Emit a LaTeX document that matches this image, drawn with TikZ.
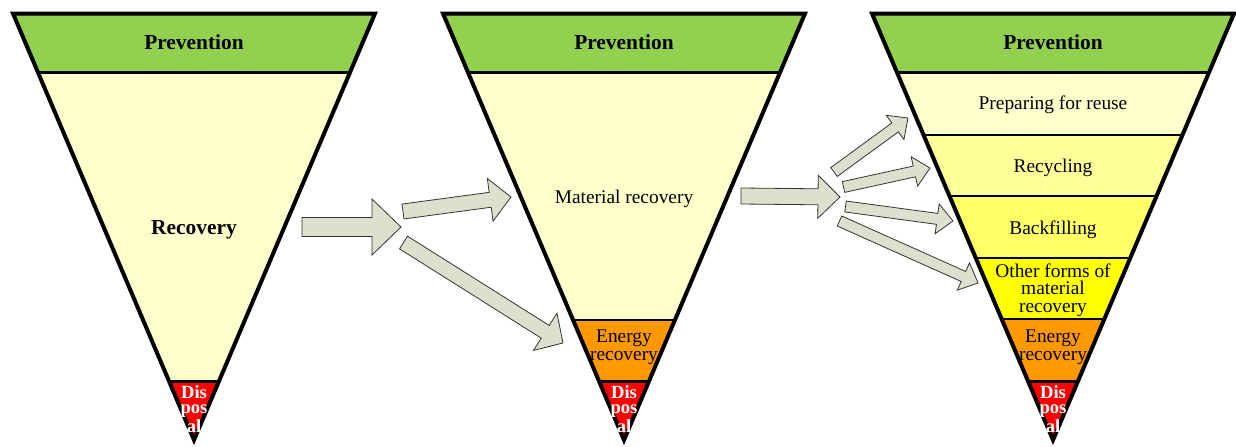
\documentclass[tikz,border=0pt]{standalone}
\usepackage{fontspec}
\setmainfont{Liberation Serif}
\usetikzlibrary{calc}
\definecolor{prevgreen}{HTML}{92D050}
\definecolor{paleyellow}{HTML}{FFFFCC}
\definecolor{recycyellow}{HTML}{FFFF99}
\definecolor{backfyellow}{HTML}{FFFF66}
\definecolor{otheryellow}{HTML}{FFFF00}
\definecolor{energyorange}{HTML}{FF9900}
\definecolor{disposalred}{HTML}{FF0000}
\definecolor{arrowgrey}{HTML}{DDE0CC}
% block arrow: tail, tip, half shaft, half head, head length
\newcommand\flowarrow[5]{%
\coordinate (hb) at ($(#2)!#5!(#1)$);
\draw[arrowbox] ($(#1)!#3!90:(#2)$) -- ($(hb)!#3!90:(#2)$) -- ($(hb)!#4!90:(#2)$) -- (#2)
  -- ($(hb)!#4!-90:(#2)$) -- ($(hb)!#3!-90:(#2)$) -- ($(#1)!#3!-90:(#2)$) -- cycle;}
\begin{document}
\begin{tikzpicture}[x=0.5pt, y=-0.5pt,
  outline/.style={draw, line width=2pt, line join=miter},
  thickband/.style={line width=1.5pt},
  thinband/.style={line width=0.8pt},
  arrowbox/.style={draw=black!80, fill=arrowgrey, line width=0.4pt},
  boldlabel/.style={font=\fontsize{10.7}{12}\selectfont\bfseries},
  label/.style={font=\fontsize{9.7}{8.8}\selectfont, align=center, inner sep=0pt},
  displabel/.style={font=\fontsize{9.3}{7.8}\selectfont\bfseries, text=white, align=center, inner sep=0pt}]
\useasboundingbox (0,0) rectangle (1236,446);

% first triangle
\coordinate (t1l) at (13,13.5);
\coordinate (t1r) at (375,13.5);
\coordinate (t1a) at (194,440);
\begin{scope}
\clip (t1l) -- (t1r) -- (t1a) -- cycle;
\fill[prevgreen] (0,0) rectangle (400,72);
\fill[paleyellow] (0,72) rectangle (400,381);
\fill[disposalred] (0,381) rectangle (400,446);
\draw[thickband] (0,72) -- (400,72);
\draw[thickband] (0,381) -- (400,381);
\end{scope}
\draw[outline] (t1l) -- (t1r) -- (t1a) -- cycle;
\node[boldlabel] (prev1) at (194,42) {Prevention};
\node[boldlabel] (rec1) at (194,230) {Recovery};
\node[displabel] (disp1) at (194,409) {Dis\\pos\\al};

% second triangle
\coordinate (t2l) at (443,13.5);
\coordinate (t2r) at (805,13.5);
\coordinate (t2a) at (624,440);
\begin{scope}
\clip (t2l) -- (t2r) -- (t2a) -- cycle;
\fill[prevgreen] (420,0) rectangle (830,72);
\fill[paleyellow] (420,72) rectangle (830,320);
\fill[energyorange] (420,320) rectangle (830,381);
\fill[disposalred] (420,381) rectangle (830,446);
\draw[thickband] (420,72) -- (830,72);
\draw[thinband] (420,320) -- (830,320);
\draw[thickband] (420,381) -- (830,381);
\end{scope}
\draw[outline] (t2l) -- (t2r) -- (t2a) -- cycle;
\node[boldlabel] (prev2) at (624,42) {Prevention};
\node[label] (mat2) at (624,199) {Material recovery};
\node[label] (en2) at (624,347) {Energy\\recovery};
\node[displabel] (disp2) at (624,409) {Dis\\pos\\al};

% third triangle
\coordinate (t3l) at (872,13.5);
\coordinate (t3r) at (1234,13.5);
\coordinate (t3a) at (1053,440);
\begin{scope}
\clip (t3l) -- (t3r) -- (t3a) -- cycle;
\fill[prevgreen] (850,0) rectangle (1260,72);
\fill[paleyellow] (850,72) rectangle (1260,135);
\fill[recycyellow] (850,135) rectangle (1260,196);
\fill[backfyellow] (850,196) rectangle (1260,258);
\fill[otheryellow] (850,258) rectangle (1260,319);
\fill[energyorange] (850,319) rectangle (1260,381);
\fill[disposalred] (850,381) rectangle (1260,446);
\draw[thickband] (850,72) -- (1260,72);
\draw[thinband] (850,135) -- (1260,135);
\draw[thinband] (850,196) -- (1260,196);
\draw[thinband] (850,258) -- (1260,258);
\draw[thinband] (850,319) -- (1260,319);
\draw[thickband] (850,381) -- (1260,381);
\end{scope}
\draw[outline] (t3l) -- (t3r) -- (t3a) -- cycle;
\node[boldlabel] (prev3) at (1053,42) {Prevention};
\node[label] (reuse3) at (1053,105) {Preparing for reuse};
\node[label] (recyc3) at (1053,168) {Recycling};
\node[label] (backf3) at (1053,230) {Backfilling};
\node[label] (other3) at (1053,290) {Other forms of\\material\\recovery};
\node[label] (en3) at (1053,347) {Energy\\recovery};
\node[displabel] (disp3) at (1053,409) {Dis\\pos\\al};

% arrows
\coordinate (a1tail) at (302,227);
\coordinate (a1tip) at (401,227);
\coordinate (a2tail) at (403,211.5);
\coordinate (a2tip) at (511,197);
\coordinate (a3tail) at (403.5,242.5);
\coordinate (a3tip) at (563,343);
\coordinate (a4tail) at (741,196);
\coordinate (a4tip) at (840,197);
\coordinate (a5tail) at (834,172);
\coordinate (a5tip) at (908,118);
\coordinate (a6tail) at (843.5,187);
\coordinate (a6tip) at (930,168);
\coordinate (a7tail) at (845.5,206.5);
\coordinate (a7tip) at (953,221);
\coordinate (a8tail) at (839.5,221);
\coordinate (a8tip) at (978,283);
\flowarrow{a1tail}{a1tip}{4.75pt}{14pt}{14.5pt}
\flowarrow{a2tail}{a2tip}{3.75pt}{10.75pt}{10.5pt}
\flowarrow{a3tail}{a3tip}{3.75pt}{11pt}{10.5pt}
\flowarrow{a4tail}{a4tip}{4pt}{10.75pt}{11pt}
\flowarrow{a5tail}{a5tip}{2.75pt}{7.5pt}{8pt}
\flowarrow{a6tail}{a6tip}{2.75pt}{7.5pt}{8pt}
\flowarrow{a7tail}{a7tip}{2.75pt}{7.5pt}{8pt}
\flowarrow{a8tail}{a8tip}{2.75pt}{7.5pt}{8pt}

\end{tikzpicture}
\end{document}
